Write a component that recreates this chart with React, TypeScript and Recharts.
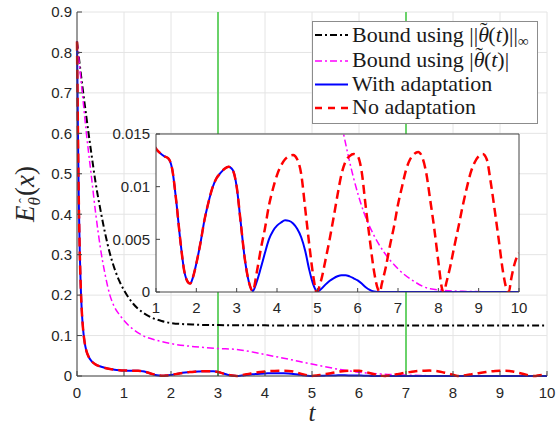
import React from "react"
import { LineChart, Line, XAxis, YAxis, CartesianGrid, ReferenceLine } from "recharts"

type Pt = [number, number]

// both runs are identical until t ~ 3.4
const transient: Pt[] = [
  [0, 0.827], [0.02, 0.6], [0.04, 0.42], [0.06, 0.3], [0.08, 0.22], [0.1, 0.165],
  [0.13, 0.115], [0.16, 0.085], [0.2, 0.062], [0.25, 0.047], [0.3, 0.038], [0.4, 0.028],
  [0.5, 0.0235], [0.6, 0.0198], [0.7, 0.0172], [0.8, 0.0155], [0.9, 0.0144], [1.0, 0.0136],
  [1.1, 0.0132], [1.2, 0.0129], [1.3, 0.0127], [1.35, 0.0124], [1.4, 0.0117], [1.5, 0.0087],
  [1.6, 0.005], [1.7, 0.002], [1.8, 0.0009], [1.85, 0.0008], [1.9, 0.0012], [2.0, 0.0027],
  [2.1, 0.0046], [2.2, 0.0068], [2.3, 0.0085], [2.4, 0.0099], [2.5, 0.0108], [2.6, 0.0113],
  [2.7, 0.0117], [2.8, 0.0119], [2.9, 0.0116], [3.0, 0.01], [3.1, 0.0066], [3.2, 0.0032],
  [3.3, 0.001], [3.4, 0.0001],
]

const withTail: Pt[] = [
  [3.5, 0.001], [3.6, 0.0023], [3.7, 0.0037], [3.8, 0.005], [3.9, 0.0058], [4.0, 0.0063],
  [4.1, 0.0066], [4.2, 0.0068], [4.3, 0.00675], [4.4, 0.0065], [4.5, 0.006], [4.6, 0.0052],
  [4.7, 0.0039], [4.8, 0.0021], [4.9, 0.0007], [5.0, 0.00005], [5.1, 0.0003], [5.2, 0.0007],
  [5.3, 0.00105], [5.4, 0.0013], [5.5, 0.0015], [5.6, 0.0016], [5.7, 0.0016], [5.8, 0.00148],
  [5.9, 0.0013], [6.0, 0.0011], [6.1, 0.0008], [6.2, 0.00045], [6.3, 0.0002], [6.4, 0.00005],
  [6.5, 0], [7, 0], [8, 0], [9, 0], [10, 0],
]

const noTail: Pt[] = [
  [3.5, 0.0019], [3.6, 0.0041], [3.7, 0.006], [3.8, 0.0082], [3.9, 0.0098], [4.0, 0.0111],
  [4.1, 0.012], [4.2, 0.0126], [4.3, 0.0129], [4.4, 0.013], [4.5, 0.0126], [4.6, 0.0112],
  [4.7, 0.0079], [4.8, 0.0045], [4.9, 0.0015], [4.98, 0], [5.1, 0.0012], [5.2, 0.003],
  [5.3, 0.0049], [5.4, 0.007], [5.5, 0.0092], [5.6, 0.0112], [5.7, 0.0124], [5.8, 0.0129],
  [5.9, 0.0131], [6.0, 0.0129], [6.1, 0.0114], [6.2, 0.0081], [6.3, 0.005], [6.4, 0.0021],
  [6.5, 0.0003], [6.55, 0], [6.6, 0.0008], [6.7, 0.0024], [6.8, 0.0044], [6.9, 0.0062],
  [7.0, 0.0083], [7.1, 0.01], [7.2, 0.0116], [7.3, 0.0126], [7.4, 0.0131], [7.5, 0.0133],
  [7.6, 0.0128], [7.7, 0.0113], [7.8, 0.0087], [7.9, 0.006], [8.0, 0.0029], [8.1, 0.0002],
  [8.14, 0], [8.2, 0.0009], [8.3, 0.0025], [8.4, 0.0044], [8.5, 0.0062], [8.6, 0.0081],
  [8.7, 0.0098], [8.8, 0.0113], [8.9, 0.0123], [9.0, 0.0129], [9.1, 0.0131], [9.2, 0.0126],
  [9.3, 0.0104], [9.4, 0.0077], [9.5, 0.0049], [9.6, 0.002], [9.7, 0.0002], [9.75, 0],
  [9.8, 0.0011], [9.9, 0.0028], [10.0, 0.0037],
]

const boundInf: Pt[] = [
  [0, 0.827], [0.1, 0.73], [0.2, 0.64], [0.3, 0.555], [0.4, 0.475], [0.5, 0.41], [0.6, 0.352],
  [0.7, 0.303], [0.8, 0.265], [0.9, 0.235], [1.0, 0.212], [1.2, 0.178], [1.4, 0.157],
  [1.6, 0.144], [1.8, 0.136], [2.0, 0.131], [2.5, 0.127], [3.0, 0.1258], [4.0, 0.1252],
  [5.0, 0.125], [10, 0.125],
]

const boundAbs: Pt[] = [
  [0, 0.827], [0.1, 0.715], [0.2, 0.6], [0.3, 0.5], [0.4, 0.4], [0.5, 0.315], [0.6, 0.25],
  [0.7, 0.2], [0.8, 0.17], [0.9, 0.152], [1.0, 0.137], [1.2, 0.115], [1.4, 0.1], [1.7, 0.088],
  [2.0, 0.08], [2.5, 0.0725], [3.0, 0.068], [3.4, 0.0655], [3.7, 0.06], [4.0, 0.053],
  [4.4, 0.044], [5.1, 0.027], [5.64, 0.0152], [5.9, 0.0108], [6.15, 0.0076], [6.4, 0.0054],
  [6.65, 0.0038], [7.0, 0.0022], [7.4, 0.001], [7.8, 0.0003], [8.6, 0.00006], [10, 0],
]

const mainTicksX = [0, 1, 2, 3, 4, 5, 6, 7, 8, 9, 10]
const mainTicksY = [0, 0.1, 0.2, 0.3, 0.4, 0.5, 0.6, 0.7, 0.8, 0.9]
const insetTicksX = [1, 2, 3, 4, 5, 6, 7, 8, 9, 10]
const insetTicksY = [0, 0.005, 0.01, 0.015]
const markers = [3, 7]

const toRows = (pts: Pt[]) => pts.map(([t, e]) => ({ t, e }))
const withAdaptation = toRows([...transient, ...withTail])
const noAdaptation = toRows([...transient, ...noTail])
const infBound = toRows(boundInf)
const absBound = toRows(boundAbs)

const SANS = "'Liberation Sans', Arial, sans-serif"
const SERIF = "'Liberation Serif', 'Times New Roman', serif"
const tickStyle = { fill: "#262626", fontSize: 15, fontFamily: SANS }
const DASHDOT = "7 3 2 3"
const DASHED = "9 5"

function YTitle({ viewBox }: any) {
  const x = viewBox.x + 34
  const y = viewBox.y + viewBox.height / 2
  return (
    <text transform={`translate(${x},${y}) rotate(-90)`} textAnchor="middle"
      fontFamily={SERIF} fontSize={27} fill="#262626">
      <tspan fontStyle="italic">E</tspan>
      <tspan fontStyle="italic" fontSize={17} dy={6}>θ</tspan>
      <tspan fontSize={15} dx={-6} dy={-11}>ˆ</tspan>
      <tspan dx={2} dy={5}>(</tspan>
      <tspan fontStyle="italic">x</tspan>
      <tspan>)</tspan>
    </text>
  )
}

function XTitle({ viewBox }: any) {
  return (
    <text x={viewBox.x + viewBox.width / 2} y={viewBox.y + 45} textAnchor="middle"
      fontFamily={SERIF} fontSize={25} fontStyle="italic" fill="#262626">
      t
    </text>
  )
}

function series(xId?: string, yId?: string) {
  const ids = xId ? { xAxisId: xId, yAxisId: yId } : {}
  return [
    <Line key="inf" {...ids} data={infBound} dataKey="e" type="monotone" stroke="#000"
      strokeWidth={2} strokeDasharray={DASHDOT} dot={false} isAnimationActive={false} />,
    <Line key="abs" {...ids} data={absBound} dataKey="e" type="monotone" stroke="#ff00ff"
      strokeWidth={1.5} strokeDasharray={DASHDOT} dot={false} isAnimationActive={false} />,
    <Line key="with" {...ids} data={withAdaptation} dataKey="e" type="monotone" stroke="#0000ff"
      strokeWidth={2} dot={false} isAnimationActive={false} />,
    <Line key="no" {...ids} data={noAdaptation} dataKey="e" type="monotone" stroke="#ff0000"
      strokeWidth={2.5} strokeDasharray={DASHED} dot={false} isAnimationActive={false} />,
  ]
}

// theta with a tilde drawn over it
function ThetaTilde() {
  return (
    <>
      <tspan fontStyle="italic">θ</tspan>
      <tspan dx={-9} dy={-5}>˜</tspan>
      <tspan dx={1} dy={5}>(</tspan>
    </>
  )
}

function Legend() {
  const rows = [
    { y: 14, color: "#000", w: 2, dash: DASHDOT },
    { y: 40, color: "#ff00ff", w: 1.5, dash: DASHDOT },
    { y: 63.5, color: "#0000ff", w: 2, dash: undefined },
    { y: 87, color: "#ff0000", w: 2.5, dash: "7 6" },
  ]
  return (
    <svg width={226} height={103} style={{ position: "absolute", left: 312, top: 21 }}>
      <rect x={0.5} y={0.5} width={225} height={102} fill="#fff" stroke="#8c8c8c" />
      {rows.map((r, i) => (
        <line key={i} x1={3} x2={36} y1={r.y} y2={r.y} stroke={r.color} strokeWidth={r.w}
          strokeDasharray={r.dash} />
      ))}
      <g fontFamily={SERIF} fontSize={22} fill="#1a1a1a">
        <text x={40} y={21}>
          Bound using ||<ThetaTilde /><tspan fontStyle="italic">t</tspan>)||
          <tspan fontSize={15} dy={4}>∞</tspan>
        </text>
        <text x={40} y={46}>
          Bound using |<ThetaTilde /><tspan fontStyle="italic">t</tspan>)|
        </text>
        <text x={40} y={70}>With adaptation</text>
        <text x={40} y={93}>No adaptation</text>
      </g>
    </svg>
  )
}

export default function App() {
  return (
    <div style={{ position: "absolute", left: 0, top: 0, width: 558, height: 426, background: "#fff" }}>
      <LineChart width={558} height={426} margin={{ top: 12, right: 11, bottom: 20, left: 0 }}>
        <CartesianGrid stroke="#e4e4e4" />
        <XAxis dataKey="t" type="number" domain={[0, 10]} ticks={mainTicksX} height={30}
          tickSize={-5} tickMargin={16} stroke="#444" tick={tickStyle} label={<XTitle />} />
        <YAxis type="number" domain={[0, 0.9]} ticks={mainTicksY} width={77}
          tickSize={-5} tickMargin={10} stroke="#444" tick={tickStyle} label={<YTitle />} />
        {markers.map((m) => (
          <ReferenceLine key={m} x={m} stroke="#6ad26a" strokeWidth={2} />
        ))}
        {series()}
      </LineChart>

      <div style={{ position: "absolute", left: 100, top: 120 }}>
        <LineChart width={430} height={200} margin={{ top: 13, right: 10, bottom: 0, left: 0 }}>
          <CartesianGrid xAxisId="b" yAxisId="l" fill="#fff" horizontal={false} vertical={false} />
          <XAxis xAxisId="b" dataKey="t" type="number" domain={[1, 10]} ticks={insetTicksX}
            allowDataOverflow height={28} tickSize={-4} tickMargin={14} stroke="#444" tick={tickStyle} />
          <XAxis xAxisId="top" orientation="top" dataKey="t" type="number" domain={[1, 10]}
            ticks={insetTicksX} allowDataOverflow height={1} tickSize={-4} tick={false} stroke="#444" />
          <YAxis yAxisId="l" type="number" domain={[0, 0.015]} ticks={insetTicksY} allowDataOverflow
            width={56} tickSize={-4} tickMargin={10} stroke="#444" tick={tickStyle} />
          <YAxis yAxisId="r" orientation="right" type="number" domain={[0, 0.015]} ticks={insetTicksY}
            allowDataOverflow width={1} tickSize={-4} tick={false} stroke="#444" />
          {series("b", "l").slice(1)}
        </LineChart>
      </div>

      <Legend />
    </div>
  )
}
